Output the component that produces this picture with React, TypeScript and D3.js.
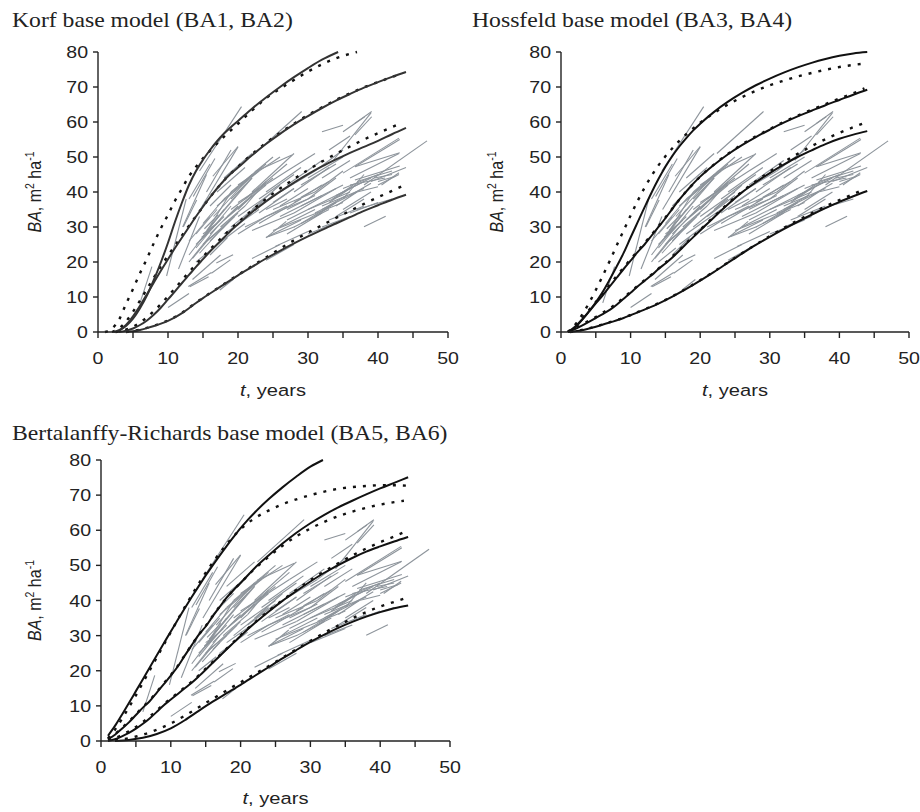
import React from 'react';
import * as d3 from 'd3';

type Pt = [number, number];
type Seg = [number, number, number, number];

// ---- axis ticks ----
const Y_TICKS = [0, 10, 20, 30, 40, 50, 60, 70, 80];
const X_TICKS = [0, 5, 10, 15, 20, 25, 30, 35, 40, 45, 50];
const X_LABELS = [0, 10, 20, 30, 40, 50];

// ---- observed plot trajectories (t1, BA1, t2, BA2), same in all panels ----
const OBS_SEGMENTS: Seg[] = [
  [14.5, 46, 20.5, 64.4], [14.6, 35, 20, 52.9], [13.6, 38.7, 16.7, 49.6], [12.2, 30.1, 14.1, 37.7],
  [12.1, 30, 15.5, 45], [9.8, 16, 12.6, 38], [6, 8.3, 7.7, 18.7], [16.4, 44.5, 20, 53],
  [18, 44, 22, 51], [10, 7, 13, 11], [12.9, 13, 16.2, 17], [13.1, 12.9, 15.8, 15.8],
  [16.2, 16.8, 18.9, 20.6], [17.4, 12, 19.3, 15], [16.9, 19.7, 19.3, 22.1], [11.5, 18, 14.5, 33],
  [13, 20, 17, 30], [13, 22, 18, 35], [14, 24, 19, 36], [15, 25, 20, 34],
  [15, 27, 19, 40], [15.5, 29, 21, 42], [16, 30, 22, 44], [16, 28, 20, 36],
  [14, 28, 17, 35], [15, 31, 18, 38], [13, 26, 16, 33], [16.5, 33, 22, 45],
  [17, 36, 23, 46], [18, 38, 24, 48], [19, 40, 25, 50], [20, 42, 26, 50],
  [17, 40, 21, 47], [16, 36, 19, 42], [18, 32, 24, 42], [19, 35, 25, 44],
  [20, 37, 27, 46], [21, 38, 27, 48], [22, 40, 28, 51], [17, 25, 21, 31],
  [18, 28, 23, 35], [19, 30, 24, 38], [20, 33, 25, 40], [13, 38, 16, 48],
  [15.5, 40, 19, 52], [13.5, 15, 17.5, 22], [14, 20, 16.5, 24], [16, 22, 18.5, 27],
  [21, 30, 27, 36], [22, 29, 28, 34], [23, 31, 29, 38], [24, 33, 30, 38],
  [25, 35, 31, 40], [26, 33, 32, 39], [27, 32, 33, 38], [28, 34, 34, 41],
  [29, 36, 35, 42], [30, 35, 36, 40], [24, 27, 29, 32], [25, 29, 30, 33],
  [26, 30, 31, 35], [27, 28, 32, 34], [28, 30, 33, 35], [29, 31, 34, 37],
  [30, 33, 35, 37], [31, 34, 37, 40], [32, 36, 38, 41], [33, 38, 38, 43],
  [34, 39, 39, 44], [35, 41, 40, 45], [36, 42, 41, 44], [37, 43, 42, 46],
  [24, 26.9, 26.9, 31.6], [25.3, 24.4, 30, 28.7], [24.3, 27.2, 28.1, 30.1], [24, 20.5, 28, 25],
  [22, 21, 26, 25], [30, 28, 35, 32], [32, 30, 36, 33], [33, 32, 38, 36],
  [34, 33, 38, 38], [35, 35, 39, 40], [38, 30.1, 41.1, 33.1], [32, 57.2, 35, 59.1],
  [35, 57.2, 38.1, 61.5], [36.7, 59.6, 39.1, 63], [36.7, 56.3, 39.1, 61.5], [33.6, 49, 39, 62.6],
  [22.4, 51, 29.1, 63], [22.4, 45.8, 27.7, 50.6], [38, 42, 47, 54.6], [36.7, 47.2, 43.1, 55],
  [36.7, 47.2, 43.1, 51.2], [36.7, 43.4, 43.1, 47.4], [36, 44, 43, 51], [39, 43, 44, 47],
  [40, 42, 43, 45], [28, 40, 33, 47], [29, 42, 34, 48], [30, 44, 35, 50],
  [26, 40, 31, 46], [27, 42, 32, 49], [23, 38, 28, 45], [24, 40, 29, 47],
  [31, 46, 35, 52], [32, 44, 36, 49], [22, 35, 26, 42], [21, 33, 25, 39],
  [20, 28, 24, 33], [23, 34, 28, 41], [35, 38, 38, 45], [30, 38, 34, 44],
  [31, 40, 35, 46], [37, 35, 42, 38], [36, 34, 40, 37], [33, 52, 36, 56],
  [35, 45.4, 43, 55.4], [27, 46, 31, 51],
  [14.5, 26, 17.5, 32], [15, 28, 17, 31], [14.8, 27, 18, 33], [15.5, 26, 18, 30],
  [14, 25, 16.5, 30], [15.2, 29.5, 17.2, 33.5], [13.5, 21, 16, 27], [14.5, 22.5, 17, 28],
  [16, 26, 19.5, 33], [17.5, 30, 21, 36], [18.5, 33, 22, 39], [20, 35, 23, 41],
  [21, 36, 24, 43], [19, 38, 22, 44], [33, 37, 36, 41], [33.5, 38, 36.5, 42],
  [34, 36, 37, 40], [32, 35, 35.5, 39], [31, 33, 34, 37], [40, 43, 42.5, 44.5],
  [40.5, 42, 43, 45.5], [39.5, 44, 42, 45], [26, 36, 30, 41], [27, 35, 31, 39],
  [28, 37, 32, 42], [29, 38.5, 33, 43], [24, 35, 27, 38], [25, 37, 28, 41],
  [36, 39, 39, 42.5], [37, 40, 40, 41.5],
];

// ---- Korf base model (BA1 solid, BA2 dotted) ----
const KORF_SOLID: Pt[][] = [
  [[2.3, 0], [3, 0.5], [4, 1.7], [5, 3.8], [6, 6.8], [7, 10.5], [8, 15], [9, 20], [10, 25.5], [11, 31.5], [12, 37], [13, 42], [14, 46], [15, 49.2], [16, 52], [17, 54.5], [18, 56.7], [19, 58.6], [20, 60.3], [22, 63.8], [24, 67], [26, 70], [28, 72.8], [30, 75.4], [32, 77.8], [34.3, 80]],
  [[2.8, 0], [4, 2], [5, 4.5], [6, 7.5], [7, 10.8], [8, 14.2], [9, 17.6], [10, 20.8], [11, 24], [12, 27], [13, 30], [14, 33], [15, 35.8], [16, 38.5], [17, 41], [18, 43.3], [19, 45.3], [20, 47], [22, 50.5], [24, 53.7], [26, 56.6], [28, 59.3], [30, 61.7], [32, 64], [34, 66.1], [36, 68], [38, 69.8], [40, 71.4], [42, 72.9], [44, 74.3]],
  [[3, 0], [4, 0.4], [5, 1], [6, 2], [7, 3.3], [8, 5], [9, 7], [10, 9.3], [11, 11.6], [12, 14], [13, 16.3], [14, 18.6], [15, 20.8], [16, 23], [17, 25], [18, 27], [19, 29], [20, 30.8], [22, 34.2], [24, 37.3], [26, 40.1], [28, 42.7], [30, 45.1], [32, 47.3], [34, 49.3], [36, 51.2], [38, 52.9], [40, 54.6], [42, 56.5], [44, 58.3]],
  [[4, 0], [5, 0.2], [6, 0.6], [7, 1.1], [8, 1.7], [9, 2.4], [10, 3.2], [11, 4.2], [12, 5.4], [13, 6.8], [14, 8.3], [15, 9.7], [16, 11], [17, 12.3], [18, 13.6], [19, 14.9], [20, 16.2], [22, 18.6], [24, 21], [26, 23.2], [28, 25.3], [30, 27.3], [32, 29.2], [34, 31], [36, 32.8], [38, 34.6], [40, 36.2], [42, 37.8], [44, 39.2]],
];
const KORF_DOTTED: Pt[][] = [
  [[1, 0], [2, 1], [3, 3.5], [4, 8], [5, 12.3], [6, 16.8], [7, 21], [8, 25.5], [9, 29.7], [10, 33.5], [11, 37.5], [12, 41], [13, 44.5], [14, 47.2], [15, 49.6], [16, 51.8], [18, 55.8], [20, 59.5], [22, 63.3], [24, 66.8], [26, 69.5], [28, 72], [30, 74.4], [32, 76.5], [34, 78.2], [37, 80]],
  [[2, 0], [3, 1], [4, 3], [5, 5.8], [6, 9], [7, 12.3], [8, 15.6], [9, 18.8], [10, 21.8], [11, 24.7], [12, 27.6], [13, 30.4], [14, 33.1], [15, 35.8], [16, 38.5], [17, 41], [18, 43.3], [20, 47.2], [22, 50.8], [24, 54], [26, 56.9], [28, 59.5], [30, 62], [32, 64.2], [34, 66.3], [36, 68.2], [38, 69.9], [40, 71.4], [43, 73.6]],
  [[2.5, 0], [4, 0.7], [5, 1.5], [6, 2.7], [7, 4.2], [8, 6], [9, 8], [10, 10.2], [11, 12.5], [12, 14.8], [13, 17.1], [14, 19.3], [15, 21.5], [16, 23.6], [18, 27.6], [20, 31.3], [22, 34.8], [24, 38], [26, 41], [28, 43.7], [30, 46.3], [32, 48.7], [34, 50.9], [36, 53], [38, 55], [40, 56.8], [43, 59.4]],
  [[4, 0], [6, 0.7], [8, 1.8], [10, 3.3], [12, 5.5], [14, 8.4], [16, 11.1], [18, 13.7], [20, 16.3], [22, 18.8], [24, 21.3], [26, 23.8], [28, 26.2], [30, 28.4], [32, 30.5], [34, 32.6], [36, 34.6], [38, 36.6], [40, 38.5], [42, 40.3], [43.8, 42]],
];

// ---- Hossfeld base model (BA3 solid, BA4 dotted) ----
const HOSS_SOLID: Pt[][] = [
  [[1, 0], [2, 1.2], [3, 3.4], [4, 5.8], [5, 8.5], [6, 11.5], [7, 15], [8, 18.7], [9, 22.6], [10, 27], [11, 31.3], [12, 35.6], [13, 39.8], [14, 43.7], [15, 47.2], [16, 50.3], [17, 53], [18, 55.4], [19, 57.6], [20, 59.5], [22, 62.9], [24, 65.8], [26, 68.3], [28, 70.5], [30, 72.4], [32, 74.1], [34, 75.6], [36, 76.9], [38, 78], [40, 78.9], [42, 79.6], [44, 80]],
  [[1, 0], [2, 1.5], [3, 3.5], [4, 5.8], [5, 8.2], [6, 10.5], [7, 13], [8, 15.5], [9, 18], [10, 20.4], [11, 22.8], [12, 25], [13, 27.5], [14, 30], [15, 32.5], [16, 35.2], [17, 37.8], [18, 40.2], [19, 42.4], [20, 44.4], [22, 47.8], [24, 50.8], [26, 53.4], [28, 55.7], [30, 57.8], [32, 59.8], [34, 61.6], [36, 63.2], [38, 64.8], [40, 66.3], [42, 67.8], [44, 69.2]],
  [[1, 0], [2, 0.8], [3, 1.8], [4, 2.9], [5, 4], [6, 5.1], [7, 6.3], [8, 7.8], [9, 9.5], [10, 11.2], [11, 13], [12, 14.6], [13, 16.2], [14, 18], [15, 19.6], [16, 21.3], [17, 23.2], [18, 25.2], [19, 27.1], [20, 29], [22, 32.8], [24, 36.5], [26, 39.9], [28, 42.8], [30, 45.4], [32, 47.8], [34, 50], [36, 51.9], [38, 53.7], [40, 55.2], [42, 56.4], [44, 57.4]],
  [[1.3, 0], [3, 0.5], [5, 1.5], [7, 2.7], [9, 4], [10, 4.8], [12, 6.4], [14, 8.1], [16, 10.1], [18, 12.3], [20, 14.7], [22, 17.2], [24, 19.8], [26, 22.4], [28, 24.9], [30, 27.2], [32, 29.4], [34, 31.5], [36, 33.5], [38, 35.4], [40, 37.2], [42, 38.8], [44, 40.3]],
];
const HOSS_DOTTED: Pt[][] = [
  [[1, 0], [2, 2], [3, 4.8], [4, 8.2], [5, 12], [6, 16.1], [7, 20.3], [8, 24.7], [9, 29], [10, 33.3], [11, 37.4], [12, 41.2], [13, 44.6], [14, 47.6], [15, 50.2], [16, 52.5], [17, 54.6], [18, 56.5], [20, 59.8], [22, 62.6], [24, 65], [26, 67.1], [28, 68.9], [30, 70.5], [32, 71.8], [34, 73], [36, 74], [38, 74.9], [40, 75.7], [42, 76.3], [44, 76.8]],
  [[1, 0], [2, 1.8], [3, 3.9], [4, 6.2], [5, 8.6], [6, 11], [7, 13.5], [8, 16], [9, 18.4], [10, 20.8], [11, 23.1], [12, 25.4], [13, 27.8], [14, 30.2], [15, 32.7], [16, 35.3], [17, 37.8], [18, 40.2], [19, 42.4], [20, 44.4], [22, 47.9], [24, 50.9], [26, 53.6], [28, 55.9], [30, 58], [32, 60], [34, 61.8], [36, 63.5], [38, 65.1], [40, 66.7], [42, 68.2], [43.6, 69.6]],
  [[1, 0], [2, 1], [3, 2.1], [4, 3.2], [5, 4.3], [6, 5.5], [7, 6.7], [8, 8.2], [9, 9.8], [10, 11.5], [11, 13.2], [12, 14.8], [13, 16.4], [14, 18.1], [15, 19.8], [16, 21.5], [17, 23.4], [18, 25.4], [19, 27.3], [20, 29.2], [22, 33], [24, 36.7], [26, 40.1], [28, 43.1], [30, 45.8], [32, 48.5], [34, 50.9], [36, 53.1], [38, 55.1], [40, 56.9], [42, 58.5], [43.6, 59.7]],
  [[1.3, 0], [3, 0.6], [5, 1.6], [7, 2.8], [9, 4.1], [10, 4.9], [12, 6.5], [14, 8.2], [16, 10.2], [18, 12.4], [20, 14.8], [22, 17.3], [24, 19.9], [26, 22.5], [28, 25], [30, 27.4], [32, 29.7], [34, 31.9], [36, 33.9], [38, 35.9], [40, 37.7], [42, 39.4], [43.5, 40.8]],
];

// ---- Bertalanffy-Richards base model (BA5 solid, BA6 dotted) ----
const BERT_SOLID: Pt[][] = [
  [[1, 1.5], [2, 4.3], [3, 7.5], [4, 10.8], [5, 14.2], [6, 17.6], [7, 21], [8, 24.4], [9, 27.8], [10, 31.2], [11, 34.5], [12, 37.8], [13, 41], [14, 44.1], [15, 47.1], [16, 50], [17, 52.8], [18, 55.5], [19, 58.1], [20, 60.6], [21, 62.9], [22, 65], [24, 68.8], [26, 72.2], [28, 75.3], [30, 78.1], [31.8, 80]],
  [[1, 0.5], [2, 1.8], [3, 3.5], [4, 5.3], [5, 7.4], [6, 9.5], [7, 11.4], [8, 13.8], [9, 16.2], [10, 18.6], [11, 21.2], [12, 24.3], [13, 27.3], [14, 30.2], [15, 32.6], [16, 35.5], [17, 38.2], [18, 40.8], [19, 43], [20, 45], [22, 49.2], [24, 52.8], [26, 56.2], [28, 59.3], [30, 62], [32, 64.4], [34, 66.5], [36, 68.4], [38, 70.2], [40, 71.9], [42, 73.5], [44, 75.1]],
  [[1, 0], [2, 0.5], [3, 1.3], [4, 2.3], [5, 3.5], [6, 4.9], [7, 6.5], [8, 8.3], [9, 10.2], [10, 11.8], [11, 13.4], [12, 15], [13, 16.6], [14, 18.4], [15, 20.3], [16, 22.3], [17, 24.2], [18, 26.1], [19, 28], [20, 29.9], [22, 33.5], [24, 36.8], [26, 39.9], [28, 42.7], [30, 45.4], [32, 47.9], [34, 50.1], [36, 52.1], [38, 53.9], [40, 55.4], [42, 56.8], [44, 58.1]],
  [[2, 0], [4, 0.3], [6, 0.9], [8, 2], [10, 3.6], [12, 5.9], [14, 8.6], [16, 11.2], [18, 13.6], [20, 16], [22, 18.5], [24, 21], [26, 23.5], [28, 25.9], [30, 28.2], [32, 30.3], [34, 32.2], [36, 33.9], [38, 35.4], [40, 36.7], [42, 37.8], [44, 38.6]],
];
const BERT_DOTTED: Pt[][] = [
  [[1, 0.8], [2, 3.2], [3, 6.3], [4, 9.6], [5, 13], [6, 16.6], [7, 20.2], [8, 23.8], [9, 27.4], [10, 31], [11, 34.6], [12, 38.1], [13, 41.5], [14, 44.8], [15, 47.9], [16, 50.8], [17, 53.5], [18, 56], [19, 58.3], [20, 60.3], [21, 62], [22, 63.4], [24, 65.6], [26, 67.4], [28, 68.8], [30, 70], [32, 71], [34, 71.8], [36, 72.3], [38, 72.6], [40, 72.8], [42, 72.8], [43.8, 72.7]],
  [[1, 0.6], [2, 2], [3, 3.7], [4, 5.6], [5, 7.6], [6, 9.7], [7, 11.7], [8, 14], [9, 16.4], [10, 18.8], [11, 21.4], [12, 24.4], [13, 27.4], [14, 30.2], [15, 32.8], [16, 35.6], [17, 38.3], [18, 40.8], [19, 43], [20, 45], [22, 49], [24, 52.4], [26, 55.6], [28, 58.3], [30, 60.5], [32, 62.4], [34, 64], [36, 65.3], [38, 66.4], [40, 67.3], [42, 68], [43.4, 68.4]],
  [[1, 0.2], [2, 0.8], [3, 1.7], [4, 2.8], [5, 4], [6, 5.4], [7, 7], [8, 8.7], [9, 10.5], [10, 12.1], [11, 13.7], [12, 15.3], [13, 16.9], [14, 18.7], [15, 20.6], [16, 22.5], [17, 24.4], [18, 26.3], [19, 28.2], [20, 30.1], [22, 33.7], [24, 37], [26, 40.1], [28, 43], [30, 45.8], [32, 48.3], [34, 50.6], [36, 52.8], [38, 54.8], [40, 56.6], [42, 58.2], [43.7, 59.7]],
  [[2, 0.2], [4, 0.8], [6, 1.8], [8, 3.2], [10, 5], [12, 7.2], [14, 9.6], [16, 12], [18, 14.4], [20, 16.7], [22, 19], [24, 21.3], [26, 23.7], [28, 26.1], [30, 28.5], [32, 30.8], [34, 32.9], [36, 34.9], [38, 36.7], [40, 38.3], [42, 39.6], [43.4, 40.5]],
];

const SX = 1.185; // horizontal stretch of the original figure
const SERIF = '"Liberation Serif", "Times New Roman", serif';
const SANS = '"Liberation Sans", Arial, Helvetica, sans-serif';
const INK = '#222';

interface PanelProps {
  title: string;
  titleX: number;
  titleY: number;
  x0: number;
  x1: number;
  yTop: number;
  yBottom: number;
  yLabelX: number;
  xLabelY: number;
  solid: Pt[][];
  dotted: Pt[][];
  curveColor: string;
}

function Panel(p: PanelProps) {
  const x = d3.scaleLinear().domain([0, 50]).range([p.x0, p.x1]);
  const y = d3.scaleLinear().domain([0, 80]).range([p.yBottom, p.yTop]);
  const line = d3
    .line<Pt>()
    .x((d) => x(d[0]))
    .y((d) => y(d[1]))
    .curve(d3.curveMonotoneX);
  const cx = (p.x0 + p.x1) / 2;
  const cy = (p.yTop + p.yBottom) / 2;
  return (
    <g>
      <text
        transform={`translate(${p.titleX},${p.titleY}) scale(${SX},1)`}
        fontFamily={SERIF}
        fontSize={20}
        fill={INK}
      >
        {p.title}
      </text>
      {/* observed trajectories */}
      <g stroke="#8d949b" strokeWidth={1.1} fill="none">
        {OBS_SEGMENTS.map((s, i) => (
          <line key={i} x1={x(s[0])} y1={y(s[1])} x2={x(s[2])} y2={y(s[3])} />
        ))}
      </g>
      {/* model curves */}
      <g fill="none">
        {p.dotted.map((c, i) => (
          <path key={'d' + i} d={line(c) || ''} stroke="#111" strokeWidth={2.4} strokeDasharray="3 7" />
        ))}
        {p.solid.map((c, i) => (
          <path key={'s' + i} d={line(c) || ''} stroke={p.curveColor} strokeWidth={2} />
        ))}
      </g>
      {/* axes */}
      <g stroke={INK} strokeWidth={1.4}>
        <line x1={p.x0} y1={p.yBottom} x2={p.x0} y2={p.yTop} />
        <line x1={p.x0} y1={p.yBottom} x2={p.x1} y2={p.yBottom} />
        {Y_TICKS.map((t) => (
          <line key={'yt' + t} x1={p.x0 - 5} x2={p.x0} y1={y(t)} y2={y(t)} />
        ))}
        {X_TICKS.map((t) => (
          <line key={'xt' + t} x1={x(t)} x2={x(t)} y1={p.yBottom} y2={p.yBottom + 6} />
        ))}
      </g>
      <g fontFamily={SANS} fontSize={16.5} fill={INK}>
        {Y_TICKS.map((t) => (
          <text
            key={'yl' + t}
            transform={`translate(${p.x0 - 10},${y(t) + 6}) scale(${SX},1)`}
            textAnchor="end"
          >
            {t}
          </text>
        ))}
        {X_LABELS.map((t) => (
          <text
            key={'xl' + t}
            transform={`translate(${x(t)},${p.yBottom + 32}) scale(${SX},1)`}
            textAnchor="middle"
          >
            {t}
          </text>
        ))}
      </g>
      <text
        transform={`translate(${cx},${p.xLabelY}) scale(${SX},1)`}
        textAnchor="middle"
        fontFamily={SANS}
        fontSize={17}
        fill={INK}
      >
        <tspan fontStyle="italic">t</tspan>, years
      </text>
      <text
        transform={`translate(${p.yLabelX},${cy}) scale(${SX},1) rotate(-90)`}
        textAnchor="middle"
        fontFamily={SANS}
        fontSize={16}
        fill={INK}
      >
        <tspan fontStyle="italic">BA</tspan>
        <tspan>, m</tspan>
        <tspan fontSize={10.5} dy={-6}>2</tspan>
        <tspan dy={6}> ha</tspan>
        <tspan fontSize={10.5} dy={-6}>-1</tspan>
      </text>
    </g>
  );
}

export default function App() {
  return (
    <svg
      width={920}
      height={812}
      viewBox="0 0 920 812"
      style={{ position: 'absolute', left: 0, top: 0, background: '#fff' }}
    >
      <Panel
        title="Korf base model (BA1, BA2)"
        titleX={12}
        titleY={27}
        x0={98}
        x1={448}
        yTop={52}
        yBottom={332}
        yLabelX={41}
        xLabelY={396}
        solid={KORF_SOLID}
        dotted={KORF_DOTTED}
        curveColor="#333"
      />
      <Panel
        title="Hossfeld base model (BA3, BA4)"
        titleX={472}
        titleY={27}
        x0={561}
        x1={909}
        yTop={52}
        yBottom={332}
        yLabelX={503}
        xLabelY={396}
        solid={HOSS_SOLID}
        dotted={HOSS_DOTTED}
        curveColor="#111"
      />
      <Panel
        title="Bertalanffy-Richards base model (BA5, BA6)"
        titleX={12}
        titleY={440}
        x0={101}
        x1={450}
        yTop={460}
        yBottom={741}
        yLabelX={41}
        xLabelY={804}
        solid={BERT_SOLID}
        dotted={BERT_DOTTED}
        curveColor="#111"
      />
    </svg>
  );
}
